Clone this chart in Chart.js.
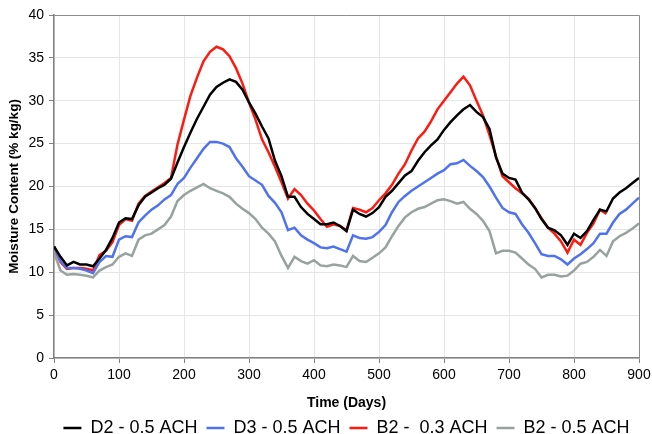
<!DOCTYPE html>
<html>
<head>
<meta charset="utf-8">
<script src="https://cdn.jsdelivr.net/npm/chart.js@4/dist/chart.umd.min.js"></script>
<style>
  html, body { margin: 0; padding: 0; background: #fff; }
  #wrap { width: 652px; height: 434px; }
</style>
</head>
<body>
<div id="wrap"><canvas id="chart"></canvas></div>
<script>
  // days sampled every 10 days
  var days = [];
  for (var d = 0; d <= 900; d += 10) days.push(d);

  var d2Half = [13.0, 11.8, 10.8, 11.2, 10.9, 10.9, 10.7, 11.6, 12.6, 14.0,
    15.8, 16.3, 16.2, 17.8, 18.8, 19.3, 19.8, 20.2, 20.9, 22.8,
    24.6, 26.3, 27.9, 29.3, 30.7, 31.6, 32.1, 32.5, 32.2, 31.3,
    29.8, 28.5, 27.0, 25.6, 23.0, 21.2, 18.8, 18.8, 17.6, 16.8,
    16.2, 15.6, 15.6, 15.8, 15.4, 14.8, 17.3, 16.8, 16.5, 16.9,
    17.6, 18.8, 19.5, 20.4, 21.3, 21.8, 23.0, 24.0, 24.8, 25.5,
    26.6, 27.5, 28.3, 29.0, 29.5, 28.7, 28.1, 26.7, 23.4, 21.5,
    21.0, 20.8, 19.3, 18.5, 17.5, 16.2, 15.2, 14.9, 14.3, 13.2,
    14.5, 14.0, 14.8, 16.1, 17.3, 17.1, 18.6, 19.3, 19.8, 20.4, 21.0];

  var d3Half = [13.0, 11.3, 10.5, 10.5, 10.4, 10.2, 9.9, 11.2, 11.9, 11.8,
    13.8, 14.2, 14.1, 15.8, 16.6, 17.3, 17.8, 18.5, 19.0, 20.3,
    21.0, 22.2, 23.3, 24.4, 25.2, 25.2, 25.0, 24.6, 23.3, 22.3,
    21.2, 20.7, 20.2, 18.9, 18.1, 17.0, 14.9, 15.2, 14.3, 13.8,
    13.4, 12.9, 12.8, 13.0, 12.7, 12.4, 14.3, 14.0, 13.9, 14.1,
    14.7, 15.5, 17.0, 18.2, 18.9, 19.5, 20.0, 20.5, 21.0, 21.5,
    21.9, 22.6, 22.7, 23.1, 22.4, 21.8, 21.1, 20.0, 18.7, 17.5,
    17.0, 16.8, 15.6, 14.6, 13.4, 12.1, 11.9, 11.9, 11.5, 10.9,
    11.6, 12.1, 12.7, 13.4, 14.5, 14.5, 15.8, 16.8, 17.3, 18.0, 18.7];

  var b2Low = [13.0, 11.2, 10.4, 10.5, 10.5, 10.4, 10.2, 12.0, 12.5, 13.5,
    15.5, 16.2, 16.0, 18.0, 18.9, 19.4, 19.9, 20.4, 21.0, 24.9,
    27.8, 30.6, 32.7, 34.6, 35.7, 36.3, 36.0, 35.2, 33.8, 32.0,
    29.8, 27.8, 25.5, 24.0, 22.3, 20.5, 18.6, 19.7, 19.0, 18.0,
    17.2, 16.2, 15.3, 15.6, 15.4, 14.9, 17.5, 17.3, 17.0, 17.5,
    18.4, 19.2, 20.2, 21.5, 22.6, 24.2, 25.6, 26.4, 27.6, 29.0,
    30.0, 31.0, 32.0, 32.8, 31.8, 30.0, 28.3, 26.0, 23.5, 21.2,
    20.5, 19.8, 19.2, 18.6, 17.5, 16.3, 15.2, 14.5, 13.6, 12.3,
    13.8, 13.2, 14.6, 15.7, 17.3, 16.8, null, null, null, null, null];

  var b2Half = [12.3, 10.2, 9.7, 9.8, 9.7, 9.6, 9.4, 10.2, 10.6, 10.9,
    11.8, 12.2, 11.9, 13.8, 14.3, 14.5, 15.0, 15.5, 16.5, 18.3,
    19.0, 19.5, 19.9, 20.3, 19.8, 19.5, 19.2, 18.8, 18.0, 17.4,
    16.9, 16.2, 15.2, 14.5, 13.6, 11.9, 10.5, 11.8, 11.3, 11.0,
    11.4, 10.8, 10.7, 10.9, 10.8, 10.6, 11.9, 11.3, 11.2, 11.7,
    12.2, 12.9, 14.2, 15.4, 16.4, 17.0, 17.4, 17.6, 18.0, 18.4,
    18.5, 18.3, 18.0, 18.2, 17.4, 16.8, 16.0, 14.8, 12.2, 12.5,
    12.5, 12.3, 11.6, 10.9, 10.4, 9.4, 9.7, 9.7, 9.5, 9.6,
    10.2, 11.0, 11.2, 11.8, 12.6, 11.9, 13.6, 14.2, 14.6, 15.1, 15.7];

  var seriesNames = ['D2 - 0.5 ACH', 'D3 - 0.5 ACH', 'B2 -  0.3 ACH', 'B2 - 0.5 ACH'];
  var seriesColors = ['#000000', '#4f72f0', '#ff1a10', '#98a29e'];
  var seriesValues = [d2Half, d3Half, b2Low, b2Half];

  var FONT = 'Liberation Sans, Arial, sans-serif';

  function toPoints(vals) {
    return days.map(function (day, i) { return { x: day, y: vals[i] }; });
  }

  // gray frame on top and right like the original
  var framePlugin = {
    id: 'frame',
    afterDraw: function (chart) {
      var a = chart.chartArea, ctx = chart.ctx;
      ctx.save();
      ctx.strokeStyle = '#8c8c8c';
      ctx.lineWidth = 1;
      ctx.beginPath();
      ctx.moveTo(a.left, a.top + 0.5);
      ctx.lineTo(a.right + 0.5, a.top + 0.5);
      ctx.lineTo(a.right + 0.5, a.bottom);
      ctx.stroke();
      ctx.restore();
    }
  };

  var ctx = document.getElementById('chart').getContext('2d');
  new Chart(ctx, {
    type: 'line',
    data: {
      datasets: seriesValues.map(function (vals, i) {
        return {
          label: seriesNames[i],
          data: toPoints(vals),
          borderColor: seriesColors[i],
          backgroundColor: seriesColors[i],
          borderWidth: 2.5,
          pointRadius: 0,
          tension: 0,
          spanGaps: false
        };
      })
    },
    options: {
      responsive: true,
      maintainAspectRatio: false,
      animation: false,
      layout: { padding: { top: 15, right: 13, left: 4, bottom: -13 } },
      plugins: {
        tooltip: { enabled: false },
        legend: {
          position: 'bottom',
          fullSize: false,
          labels: {
            usePointStyle: true,
            pointStyle: 'line',
            pointStyleWidth: 18,
            padding: 9,
            color: '#000',
            font: { family: FONT, size: 18 }
          }
        }
      },
      scales: {
        x: {
          type: 'linear',
          min: 0,
          max: 900,
          afterFit: function (scale) {
            scale.height = 52;
            scale.paddingLeft = 0;
            scale.paddingRight = 0;
          },
          ticks: {
            stepSize: 100,
            color: '#000',
            padding: 4,
            font: { family: FONT, size: 14 }
          },
          grid: { color: '#e6e6e6', tickColor: '#808080', tickLength: 5 },
          border: { color: '#808080', width: 1.5 },
          title: {
            display: true,
            text: 'Time (Days)',
            color: '#000',
            padding: { top: 8, bottom: -1.4 },
            font: { family: FONT, size: 14, weight: 'bold' }
          }
        },
        y: {
          min: 0,
          max: 40,
          afterFit: function (scale) {
            scale.width = 50;
            scale.paddingTop = 0;
            scale.paddingBottom = 0;
          },
          ticks: {
            stepSize: 5,
            color: '#000',
            padding: 5,
            font: { family: FONT, size: 14 }
          },
          grid: { color: '#e6e6e6', tickColor: '#808080', tickLength: 5 },
          border: { color: '#808080', width: 1.5 },
          title: {
            display: true,
            text: 'Moisture Content (% kg/kg)',
            color: '#000',
            padding: { top: 2, bottom: 2 },
            font: { family: FONT, size: 13.5, weight: 'bold' }
          }
        }
      }
    },
    plugins: [framePlugin]
  });
</script>
</body>
</html>
